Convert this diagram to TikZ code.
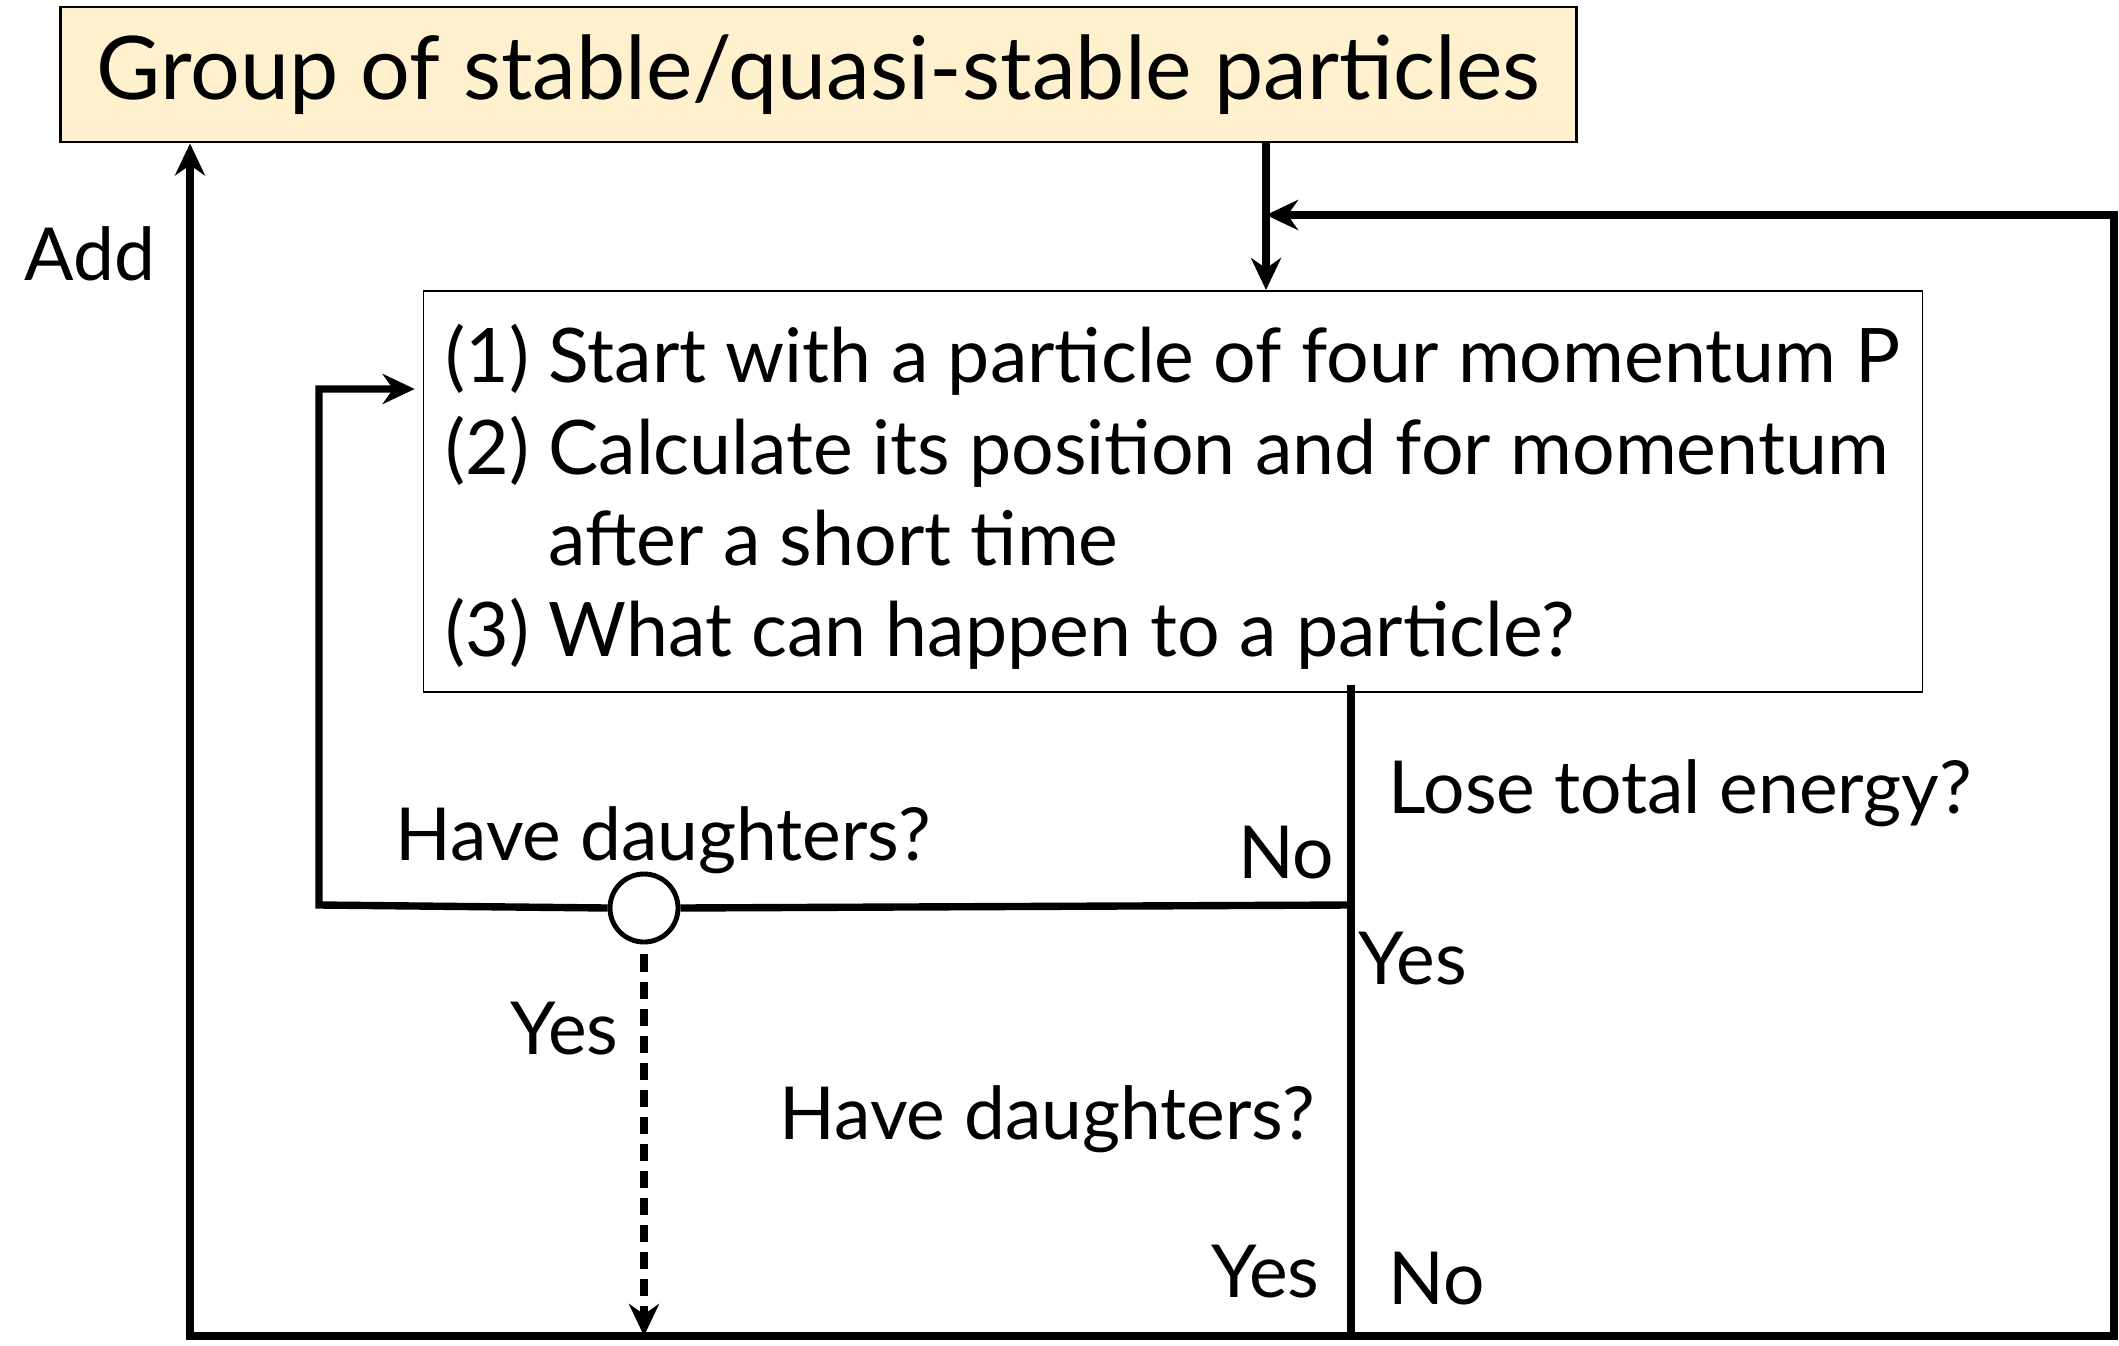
\documentclass[tikz,border=0pt]{standalone}
\usepackage{fontspec}
\setmainfont{Lato}
\usetikzlibrary{arrows.meta,positioning,calc}
\definecolor{groupfill}{HTML}{FFF1CE}

\begin{document}
\begin{tikzpicture}[
  x=0.01cm,y=-0.01cm,
  group/.style={draw, line width=0.8pt, fill=groupfill, inner sep=0pt, minimum width=15.15cm, minimum height=1.35cm, font=\fontsize{25}{30}\selectfont},
  proc/.style={draw, line width=0.5pt, inner sep=0pt, minimum width=14.98cm, minimum height=4.01cm, font=\fontsize{21.4}{26}\selectfont},
  lbl/.style={inner sep=0pt, font=\fontsize{20.8}{24}\selectfont},
  dec/.style={circle, draw, line width=1.4pt, fill=white, minimum size=0.68cm, inner sep=0pt},
  flow/.style={line width=2.1pt},
  arr/.style={-{Stealth[length=0.32cm,width=0.3cm]}, line width=2.1pt}
]
\useasboundingbox (0,0) rectangle (2119,1346);
\node[group] (group) at (818.5,74.5) {Group of stable/quasi-stable particles};
\node[proc] (proc) at (1173,491.5) {\raisebox{0pt}[\dimexpr\height+0.2cm][\depth]{\begin{tabular}{@{}l@{\ }l@{}}
(1) & Start with a particle of four momentum P\\
(2) & Calculate its position and for momentum\\
    & after a short time\\
(3) & What can happen to a particle?
\end{tabular}}};
\node[dec] (dec) at (644,908) {};
% bends of the flow lines
\coordinate (topin) at (1266,215);
\coordinate (split) at (1351,905);
\coordinate (lowsplit) at (1351,1336);
\coordinate (rb) at (2114,1336);
\coordinate (rt) at (2114,215);
\coordinate (lb) at (190,1336);
\coordinate (back) at (319,905);
\coordinate (backtop) at (319,389);
% labels
\node[lbl, anchor=base west] (add) at (24,281) {Add};
\node[lbl, anchor=base west] (lose) at (1388,813) {Lose total energy?};
\node[lbl, anchor=base west] (hd1) at (395,860) {Have daughters?};
\node[lbl, anchor=base east] (no1) at (1335,878) {No};
\node[lbl, anchor=base west] (yes1) at (1358,984) {Yes};
\node[lbl, anchor=base east] (yes2) at (619,1054) {Yes};
\node[lbl, anchor=base east] (hd2) at (1316,1139) {Have daughters?};
\node[lbl, anchor=base east] (yes3) at (1320,1297) {Yes};
\node[lbl, anchor=base west] (no2) at (1388,1304) {No};
% connectors
\draw[arr] (group.south -| topin) -- (proc.north -| topin);
\draw[flow] ([yshift=0.08cm]proc.south -| split) -- (lowsplit);
\draw[flow] (split) -- (dec.east);
\draw[arr, shorten >=0.08cm] (dec.west) -- (back) -- (backtop) -- (proc.west |- backtop);
\draw[arr, dash pattern=on 0.17cm off 0.1cm, shorten <=0.1cm] (dec.south) -- (dec |- lb);
\draw[arr] (lowsplit) -- (lb) -- (group.south -| lb);
\draw[arr] (lowsplit) -- (rb) -- (rt) -- (topin);
\end{tikzpicture}
\end{document}
